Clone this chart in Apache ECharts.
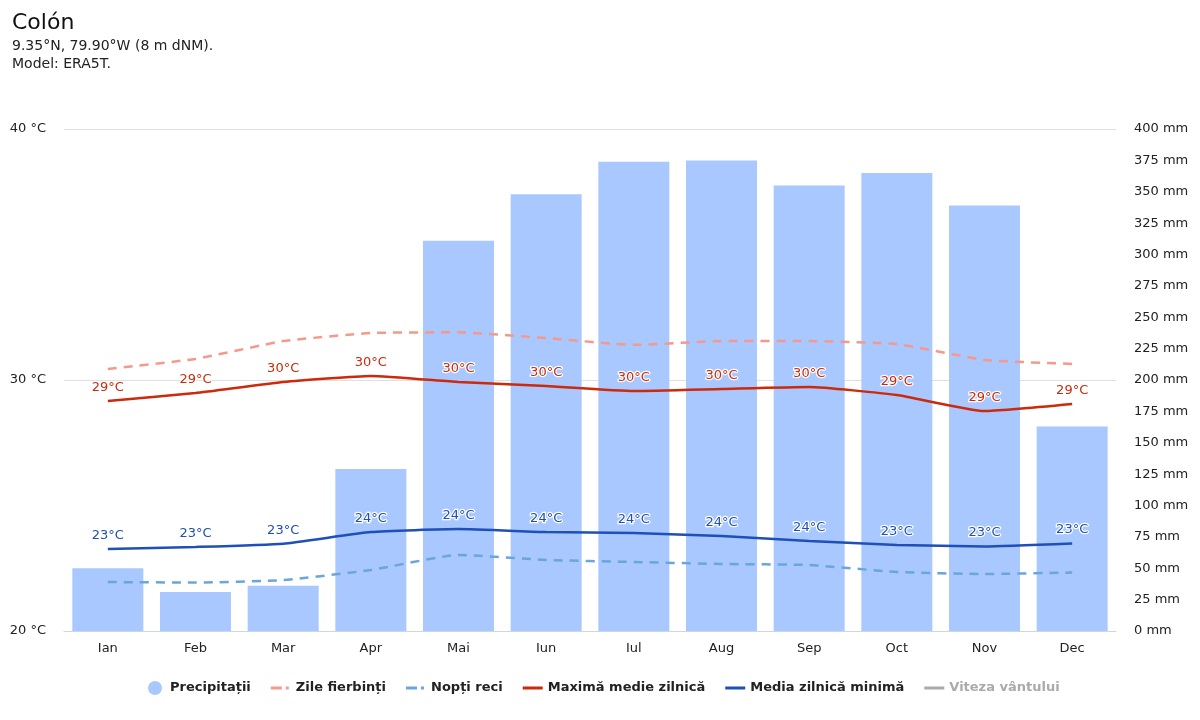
<!DOCTYPE html>
<html>
<head>
<meta charset="utf-8">
<title>Colón</title>
<script src="https://cdn.jsdelivr.net/npm/echarts@6/dist/echarts.min.js"></script>
<style>
html, body { margin: 0; padding: 0; background: #fff; }
#main { width: 1200px; height: 720px; }
</style>
</head>
<body>
<div id="main"></div>
<script>
// values
var months = ['Ian', 'Feb', 'Mar', 'Apr', 'Mai', 'Iun', 'Iul', 'Aug', 'Sep', 'Oct', 'Nov', 'Dec'];
var precipitation = [50, 31, 36, 129, 311, 348, 374, 375, 355, 365, 339, 163];
var hotDays = [30.44, 30.84, 31.55, 31.87, 31.9, 31.67, 31.4, 31.55, 31.55, 31.43, 30.8, 30.64];
var coldNights = [21.95, 21.93, 22.03, 22.43, 23.03, 22.83, 22.75, 22.67, 22.63, 22.35, 22.27, 22.33];
var maxDaily = [29.16, 29.48, 29.92, 30.16, 29.92, 29.76, 29.56, 29.64, 29.72, 29.4, 28.76, 29.04];
var minDaily = [23.27, 23.35, 23.48, 23.94, 24.06, 23.94, 23.9, 23.78, 23.59, 23.43, 23.37, 23.49];
var windSpeed = [];

var fontName = '"DejaVu Sans", sans-serif';
// legend keys, the zero size parts keep the full box so the bar stays thin
var dashIcon = 'path://M0 0h0v0zM20 14h0v0zM0 5.5h11v3H0zM15 5.5h3v3h-3z';
var solidIcon = 'path://M0 0h0v0zM20 14h0v0zM0 5.5h20v3H0z';

function tempLabel(color) {
    return {
        show: true,
        position: 'top',
        distance: 7,
        color: color,
        fontFamily: fontName,
        fontSize: 13,
        textBorderColor: '#fff',
        textBorderWidth: 2.5,
        formatter: function (p) { return Math.round(p.value) + '°C'; }
    };
}

function lineSeries(name, data, color, dashed, label) {
    return {
        name: name,
        type: 'line',
        yAxisIndex: 0,
        data: data,
        symbol: 'circle',
        symbolSize: 0.01,
        showSymbol: true,
        smooth: 0.15,
        z: dashed ? 3 : 4,
        itemStyle: { color: color },
        lineStyle: { color: color, width: 2.5, type: dashed ? [9, 7] : 'solid' },
        label: label ? tempLabel(color) : { show: false }
    };
}

var myChart = echarts.init(document.getElementById('main'));
var option = {
    animation: false,
    backgroundColor: '#fff',
    textStyle: { fontFamily: fontName },
    title: {
        left: 7,
        top: 7,
        text: 'Colón',
        textStyle: { color: '#111', fontSize: 22, fontWeight: 'normal', fontFamily: fontName },
        subtext: '9.35°N, 79.90°W (8 m dNM).\nModel: ERA5T.',
        subtextStyle: { color: '#222', fontSize: 14, lineHeight: 18, fontFamily: fontName },
        itemGap: 3
    },
    legend: {
        left: 143,
        top: 676,
        itemGap: 20,
        itemWidth: 20,
        itemHeight: 14,
        textStyle: { color: '#222', fontSize: 13, fontWeight: 'bold', fontFamily: fontName },
        inactiveColor: '#aaa',
        inactiveBorderColor: '#aaa',
        selected: { 'Viteza vântului': false },
        data: [
            { name: 'Precipitații', icon: 'circle' },
            { name: 'Zile fierbinți', icon: dashIcon },
            { name: 'Nopți reci', icon: dashIcon },
            { name: 'Maximă medie zilnică', icon: solidIcon },
            { name: 'Media zilnică minimă', icon: solidIcon },
            { name: 'Viteza vântului', icon: solidIcon }
        ]
    },
    grid: { left: 64, right: 84, top: 129, bottom: 89 },
    xAxis: {
        type: 'category',
        data: months,
        axisTick: { show: false },
        axisLine: { lineStyle: { color: '#ccd6eb', width: 1 } },
        axisLabel: { color: '#222', fontSize: 13, margin: 11 }
    },
    yAxis: [
        {
            type: 'value',
            min: 20,
            max: 40,
            interval: 10,
            axisLine: { show: false },
            axisTick: { show: false },
            splitLine: { lineStyle: { color: '#e0e0e0', width: 1 } },
            axisLabel: { color: '#222', fontSize: 13, margin: 18, padding: [3, 0, 0, 0], formatter: '{value} °C' }
        },
        {
            type: 'value',
            min: 0,
            max: 400,
            interval: 25,
            position: 'right',
            axisLine: { show: false },
            axisTick: { show: false },
            splitLine: { show: false },
            axisLabel: { color: '#222', fontSize: 13, margin: 18, padding: [3, 0, 0, 0], formatter: '{value} mm' }
        }
    ],
    series: [
        {
            name: 'Precipitații',
            type: 'bar',
            yAxisIndex: 1,
            data: precipitation,
            barCategoryGap: '19%',
            z: 1,
            itemStyle: { color: '#a8c8ff' }
        },
        lineSeries('Zile fierbinți', hotDays, '#f5998c', true, false),
        lineSeries('Nopți reci', coldNights, '#6aa6dc', true, false),
        lineSeries('Maximă medie zilnică', maxDaily, '#cc2a0a', false, true),
        lineSeries('Media zilnică minimă', minDaily, '#1f4fb8', false, true),
        lineSeries('Viteza vântului', windSpeed, '#aaaaaa', false, false)
    ]
};
myChart.setOption(option);
</script>
</body>
</html>
